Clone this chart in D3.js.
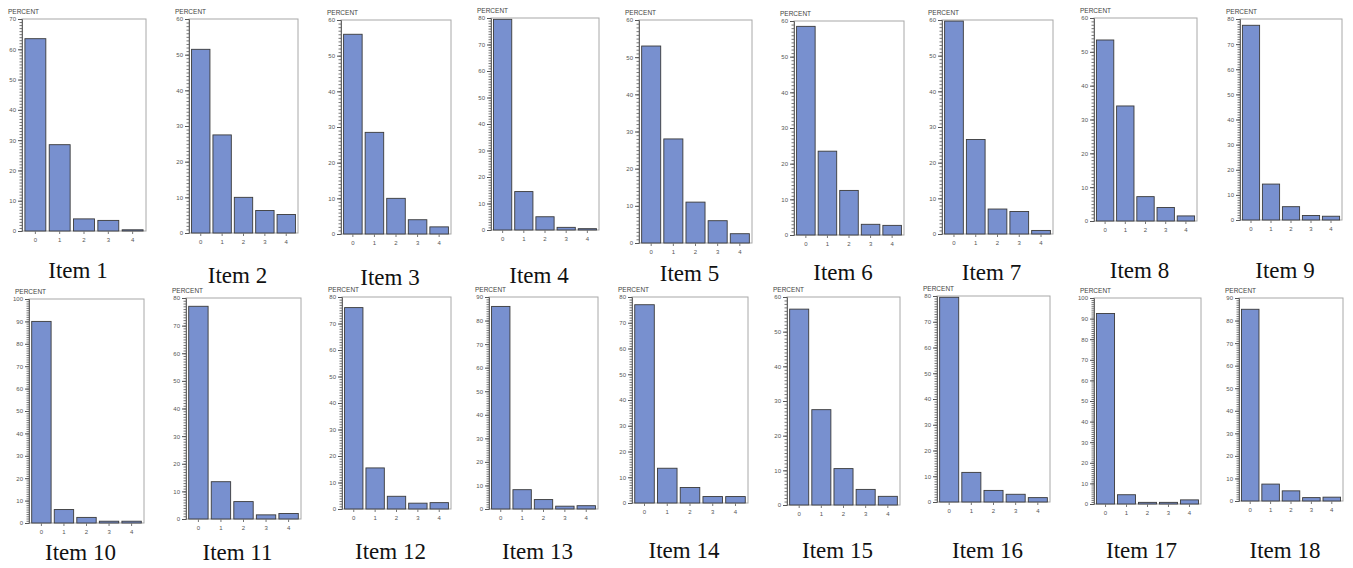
<!DOCTYPE html>
<html>
<head>
<meta charset="utf-8">
<script src="https://cdn.jsdelivr.net/npm/d3@7"></script>
<style>
  body { margin: 0; background: #fff; }
  svg { display: block; }
  .tick text { fill: #555; }
</style>
</head>
<body>
<svg id="chart" width="1353" height="568"></svg>
<script>
// categories on the x axis
var categories = ['0', '1', '2', '3', '4'];
var itemNames = ['Item 1','Item 2','Item 3','Item 4','Item 5','Item 6','Item 7','Item 8','Item 9',
  'Item 10','Item 11','Item 12','Item 13','Item 14','Item 15','Item 16','Item 17','Item 18'];
// percent per category
var item1 = [63.5, 28.5, 4, 3.5, 0.4];
var item2 = [51.5, 27.5, 10, 6.3, 5.2];
var item3 = [56, 28.5, 10, 4, 2];
var item4 = [79.5, 14.5, 5, 1, 0.5];
var item5 = [53, 28, 11, 6, 2.5];
var item6 = [58.5, 23.5, 12.5, 3, 2.7];
var item7 = [59.7, 26.5, 7, 6.3, 1];
var item8 = [53.5, 34, 7.2, 4, 1.5];
var item9 = [77.5, 14.3, 5.3, 1.8, 1.5];
var item10 = [90, 6, 2.5, 0.8, 0.8];
var item11 = [77, 13.5, 6.3, 1.5, 2];
var item12 = [76, 15.5, 4.8, 2.2, 2.4];
var item13 = [86, 8.2, 4, 1.2, 1.4];
var item14 = [77, 13.5, 6, 2.5, 2.5];
var item15 = [56.5, 27.5, 10.5, 4.5, 2.5];
var item16 = [79.5, 11.5, 4.5, 3, 1.7];
var item17 = [92.5, 4.5, 0.8, 0.8, 2];
var item18 = [85, 7.5, 4.5, 1.5, 1.7];
// y axis maximum of each panel
var yMax = [70, 60, 60, 80, 60, 60, 60, 60, 80, 100, 80, 80, 90, 80, 60, 80, 100, 90];

var allItems = [item1,item2,item3,item4,item5,item6,item7,item8,item9,
  item10,item11,item12,item13,item14,item15,item16,item17,item18];

// panel frames: left, top, right, bottom, label y (layout only)
var frames = [
  [22, 19, 146, 231, 270], [189, 19, 298, 233, 275], [341, 20, 451, 234, 277],
  [491, 18, 599, 230, 275], [639, 20, 752, 243, 273], [794, 21, 904, 235, 272],
  [942, 20, 1053, 234, 272], [1094, 18, 1197, 221, 270], [1240, 19, 1342, 220, 270],
  [29, 299, 144, 523, 552], [186, 298, 301, 519, 552], [342, 297, 451, 509, 551],
  [489, 297, 598, 509, 551], [632, 297, 748, 503, 550], [787, 297, 900, 505, 550],
  [937, 296, 1050, 502, 550], [1094, 298, 1201, 504, 550], [1239, 298, 1343, 501, 550]
];

var svg = d3.select('#chart');

allItems.forEach(function(vals, i) {
  var f = frames[i];
  var left = f[0], top = f[1], right = f[2], bottom = f[3];
  var g = svg.append('g').attr('class', 'panel');

  var x = d3.scaleBand().domain(categories).range([left, right])
    .paddingInner(0.14).paddingOuter(0.12);
  var y = d3.scaleLinear().domain([0, yMax[i]]).range([bottom, top]);

  // frame
  g.append('rect')
    .attr('x', left).attr('y', top)
    .attr('width', right - left).attr('height', bottom - top)
    .attr('fill', '#fff').attr('stroke', '#a8a8a8').attr('stroke-width', 1);

  // bars
  g.selectAll('rect.bar')
    .data(vals)
    .enter()
    .append('rect')
    .attr('class', 'bar')
    .attr('x', function(d, k) { return x(categories[k]); })
    .attr('width', x.bandwidth())
    .attr('y', function(d) { return y(d); })
    .attr('height', function(d) { return bottom - y(d); })
    .attr('fill', '#7890cf')
    .attr('stroke', '#3a3a3a')
    .attr('stroke-width', 0.9);

  // minor ticks every 1 unit
  var minor = d3.range(0, yMax[i] + 1, 1);
  g.append('g')
    .attr('transform', 'translate(' + left + ',0)')
    .call(d3.axisLeft(y).tickValues(minor).tickSize(2.5).tickFormat(''))
    .call(function(a) {
      a.select('.domain').remove();
      a.selectAll('line').attr('stroke', '#555').attr('stroke-width', 0.8);
    });

  // major ticks
  g.append('g')
    .attr('transform', 'translate(' + left + ',0)')
    .call(d3.axisLeft(y).tickValues(d3.range(0, yMax[i] + 1, 10)).tickSize(4).tickPadding(2))
    .call(function(a) {
      a.select('.domain').attr('stroke', '#666');
      a.selectAll('line').attr('stroke', '#555');
      a.selectAll('text').attr('font-size', 6).attr('font-family', 'Arial, Liberation Sans, sans-serif');
    });

  // x axis
  g.append('g')
    .attr('transform', 'translate(0,' + bottom + ')')
    .call(d3.axisBottom(x).tickSize(3).tickPadding(4))
    .call(function(a) {
      a.select('.domain').remove();
      a.selectAll('line').attr('stroke', '#777');
      a.selectAll('text').attr('font-size', 6).attr('font-family', 'Arial, Liberation Sans, sans-serif');
    });

  // PERCENT label
  g.append('text')
    .attr('x', left - 14).attr('y', top - 5)
    .attr('font-size', 6.5)
    .attr('font-family', 'Arial, Liberation Sans, sans-serif')
    .attr('fill', '#444')
    .text('PERCENT');

  // item label
  g.append('text')
    .attr('x', (left + right) / 2 - 6).attr('y', f[4] + 8)
    .attr('text-anchor', 'middle')
    .attr('font-size', 23)
    .attr('font-family', 'Times New Roman, Liberation Serif, serif')
    .attr('fill', '#111')
    .text(itemNames[i]);
});
</script>
</body>
</html>
